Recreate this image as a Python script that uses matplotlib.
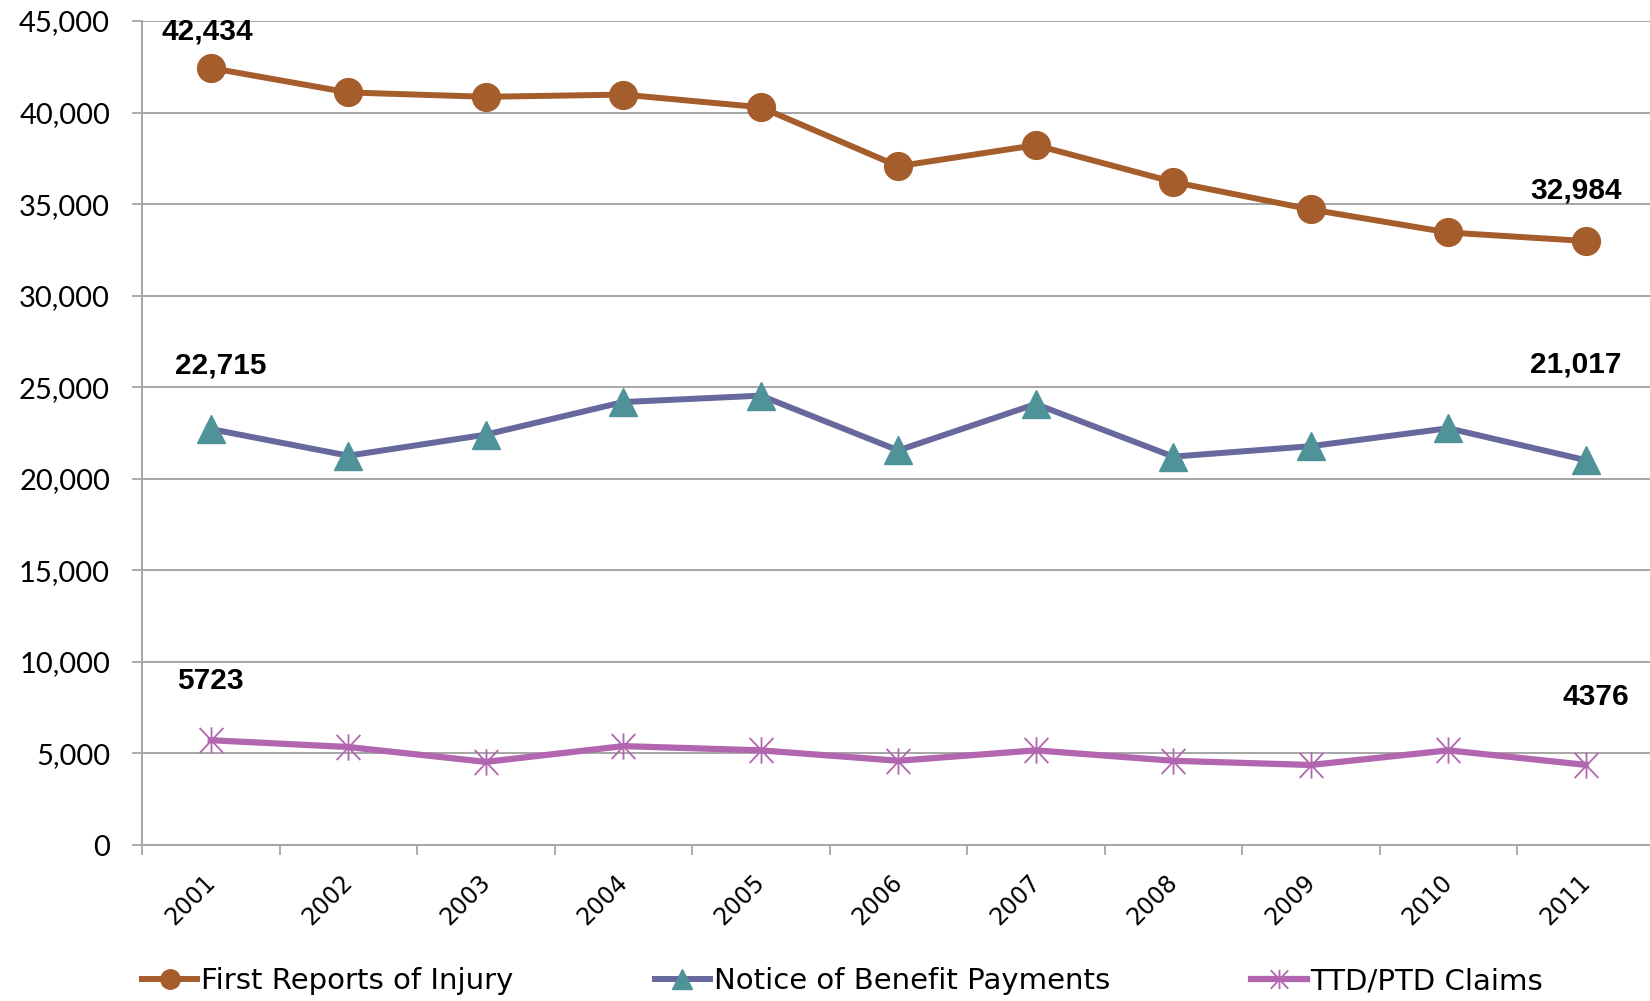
import numpy as np
import matplotlib
matplotlib.use('Agg')
import matplotlib.pyplot as plt
from matplotlib.lines import Line2D
from matplotlib.path import Path
import matplotlib.transforms as mtransforms

# === Data ===
years = ["2001", "2002", "2003", "2004", "2005", "2006",
         "2007", "2008", "2009", "2010", "2011"]
first_reports = [42434, 41100, 40860, 40980, 40290, 37070,
                 38220, 36210, 34710, 33450, 32984]
benefit_notices = [22715, 21260, 22410, 24190, 24540, 21550,
                   24080, 21210, 21780, 22760, 21017]
ttd_ptd_claims = [5723, 5350, 4540, 5400, 5170, 4600,
                  5170, 4600, 4370, 5170, 4376]

series_names = ["First Reports of Injury", "Notice of Benefit Payments", "TTD/PTD Claims"]
yticks = [0, 5000, 10000, 15000, 20000, 25000, 30000, 35000, 40000, 45000]

# === Style ===
BROWN = "#A65D2C"
SLATE = "#66689E"
TEAL = "#4F9399"
ORCHID = "#B266B0"
GRID = "#A6A6A6"
TICK_FONT = ["Lato", "DejaVu Sans"]
WIDE_FONT = ["DejaVu Sans"]
LABEL_FONT = ["Liberation Sans", "DejaVu Sans"]

# asterisk marker (vertical + X), like Excel's "star"
star = Path([(0, -1), (0, 1), (-0.9, -0.95), (0.9, 0.95), (-0.9, 0.95), (0.9, -0.95)],
            [Path.MOVETO, Path.LINETO, Path.MOVETO, Path.LINETO, Path.MOVETO, Path.LINETO])

fig = plt.figure(figsize=(16.5, 10.01), dpi=100)
ax = fig.add_axes([142 / 1650, 1 - 845 / 1001, 1512.5 / 1650, 824 / 1001])

x = np.arange(len(years))
ax.plot(x, first_reports, color=BROWN, lw=4.3, marker='o', ms=20,
        mfc=BROWN, mec=BROWN, zorder=4)
ax.plot(x, benefit_notices, color=SLATE, lw=4.3, marker='^', ms=20,
        mfc=TEAL, mec=TEAL, zorder=4)
ax.plot(x, ttd_ptd_claims, color=ORCHID, lw=4.5, marker=star, ms=19,
        mfc='none', mec=ORCHID, mew=1.3, zorder=4)

# end-point labels (offsets in pixels)
labels = [
    (0, first_reports[0], "42,434", -3, 36),
    (10, first_reports[10], "32,984", -10, 51),
    (0, benefit_notices[0], "22,715", 10, 64),
    (10, benefit_notices[10], "21,017", -10, 96),
    (0, ttd_ptd_claims[0], "5723", 0, 59),
    (10, ttd_ptd_claims[10], "4376", 10, 68),
]
for xi, yi, txt, dx, dy in labels:
    ax.annotate(txt, (xi, yi), xytext=(dx, dy), textcoords='offset pixels',
                ha='center', va='center', fontsize=21.5, fontweight='bold',
                family=LABEL_FONT, color='black')

# axes
ax.set_xlim(-0.5, 10.5)
ax.set_ylim(0, 45000)
ax.set_yticks(yticks)
ax.set_yticklabels([f"{v:,}" for v in yticks], family=TICK_FONT, fontsize=21)
ax.set_xticks(x)
ax.set_xticklabels(years, rotation=45, ha='right', family=WIDE_FONT, fontsize=17)
ax.set_xticks(np.arange(-0.5, 11, 1), minor=True)
ax.tick_params(axis='x', which='major', length=0, pad=18)
ax.tick_params(axis='x', which='minor', length=7, width=1.3, color=GRID, direction='out')
ax.tick_params(axis='y', length=7, width=1.3, color=GRID, direction='out', pad=16)
offset = mtransforms.ScaledTranslation(0.09, 0, fig.dpi_scale_trans)
for lab in ax.get_xticklabels():
    lab.set_transform(lab.get_transform() + offset)

ax.grid(axis='y', color=GRID, lw=1.4)
ax.set_axisbelow(True)
for s in ['top', 'right']:
    ax.spines[s].set_visible(False)
for s in ['left', 'bottom']:
    ax.spines[s].set_color(GRID)
    ax.spines[s].set_linewidth(1.4)

# legend
handles = [
    Line2D([], [], color=BROWN, lw=4.3, marker='o', ms=14, mfc=BROWN, mec=BROWN),
    Line2D([], [], color=SLATE, lw=4.3, marker='^', ms=14, mfc=TEAL, mec=TEAL),
    Line2D([], [], color=ORCHID, lw=4.5, marker=star, ms=14, mfc='none', mec=ORCHID, mew=1.3),
]
fig.legend(handles, series_names, loc='center left', bbox_to_anchor=(142 / 1650, 1 - 981 / 1001),
           ncol=3, frameon=False, prop={'family': WIDE_FONT, 'size': 21},
           handlelength=1.9, handletextpad=0.12, columnspacing=4.85,
           borderpad=0, borderaxespad=0, numpoints=1)

fig.savefig("out.png", dpi=100)
